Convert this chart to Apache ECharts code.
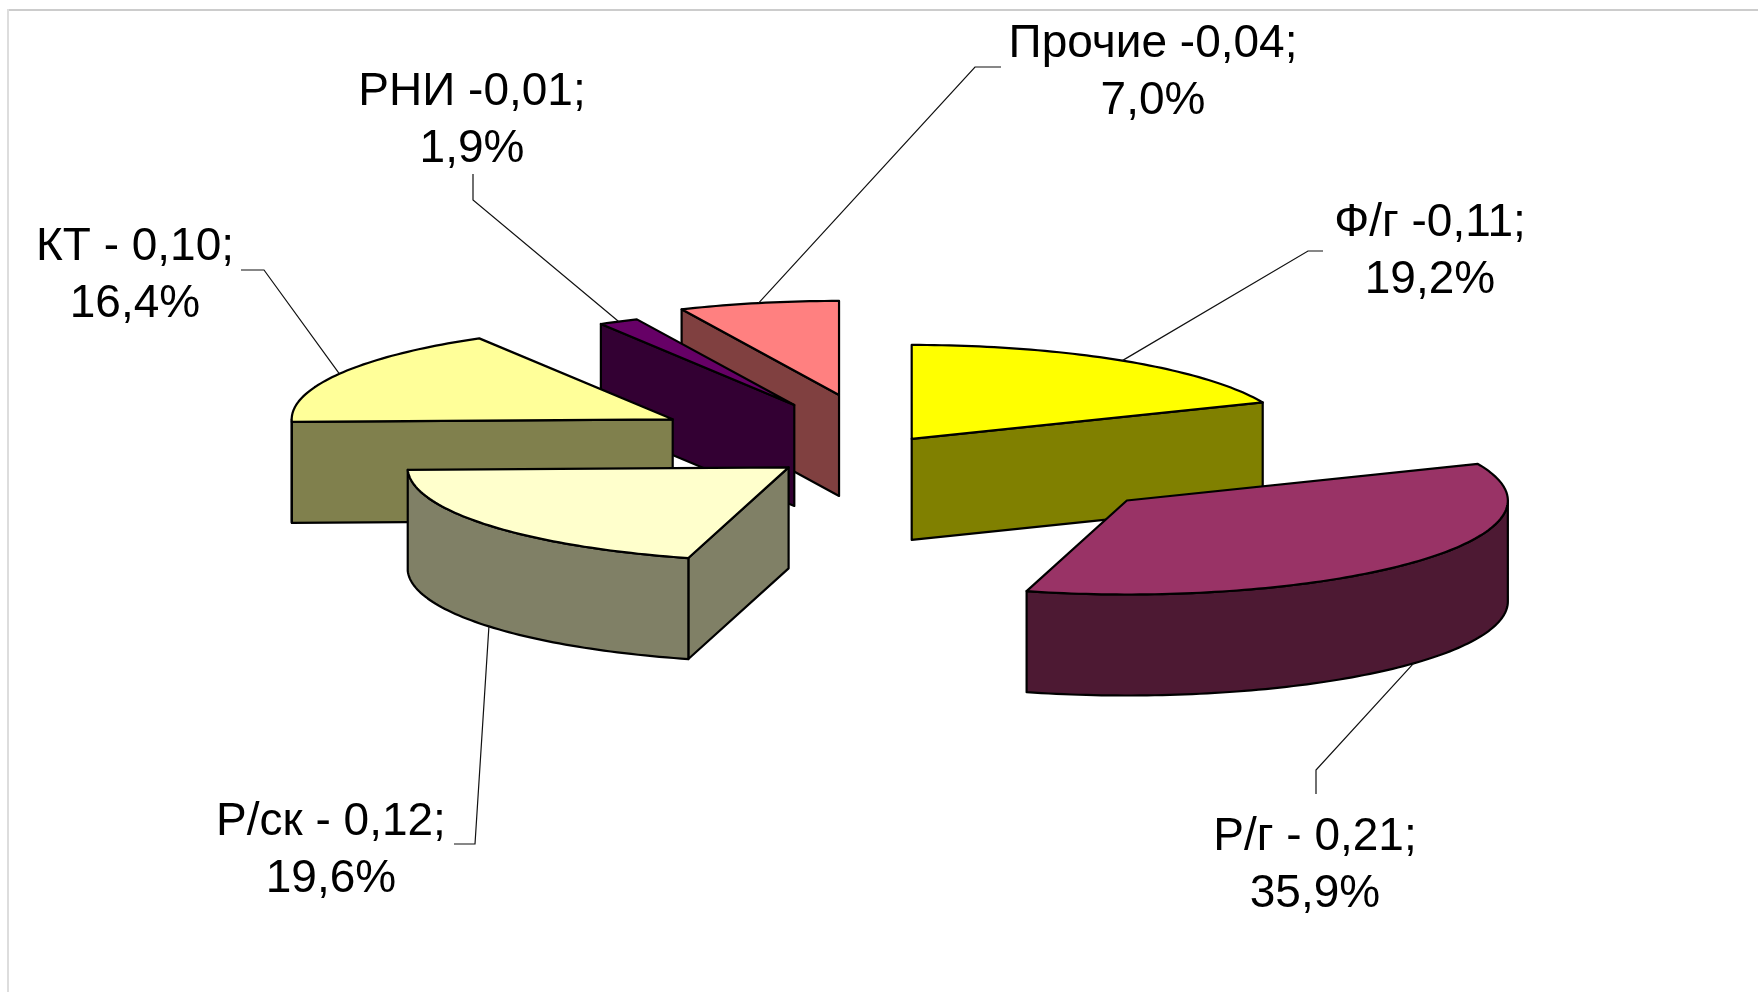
<!DOCTYPE html>
<html><head><meta charset="utf-8">
<style>html,body{margin:0;padding:0;background:#fff}#c{width:1758px;height:992px}</style>
<script src="https://cdn.jsdelivr.net/npm/echarts@6/dist/echarts.min.js"></script>
</head><body><div id="c"></div>
<script>
// Data, clockwise from 12 o'clock
const categories = ['Ф/г', 'Р/г', 'Р/ск', 'КТ', 'РНИ', 'Прочие'];
const values = [0.11, 0.21, 0.12, 0.10, 0.01, 0.04];
const percents = [19.2, 35.9, 19.6, 16.4, 1.9, 7.0];
const separators = [' -', ' - ', ' - ', ' - ', ' -', ' -'];
// Explosion of each slice, as a fraction of the radius
const explosions = [0.122, 0.84, 0.325, 0.64, 0.522, 0.583];
// Styles
const topColors = ['#ffff00', '#993366', '#ffffcc', '#ffff99', '#660066', '#ff8080'];
const wallColors = ['#808000', '#4d1933', '#808066', '#80804d', '#330033', '#804040'];
// Paint order, back to front
const drawOrder = [0, 1, 5, 4, 3, 2];
// Pie projection
const pie = { cx: 886, cy: 448.5, rx: 381, ry: 94, depth: 101 };
// Label centres and leader elbows
const labelCenters = [[1430, 252], [1315, 866], [331, 851], [135, 276], [472, 121], [1153, 73]];
const leaderElbows = [[[1308, 251], [1323, 251]], [[1316, 770], [1316, 794]], [[475, 844], [454, 844]],
                      [[264, 270], [241, 270]], [[473, 200], [473, 174]], [[975, 67], [1001, 67]]];

const total = values.reduce((a, b) => a + b, 0);
const toRad = v => v / total * Math.PI * 2;
const starts = [];
values.reduce((acc, v, i) => { starts[i] = acc; return acc + v; }, 0);

function renderItem(params, api) {
  const i = api.value(0);
  const a0 = toRad(starts[i]), a1 = toRad(starts[i] + values[i]), mid = (a0 + a1) / 2;
  const ax = pie.cx + explosions[i] * pie.rx * Math.sin(mid);
  const ay = pie.cy - explosions[i] * pie.ry * Math.cos(mid);
  const rim = a => [ax + pie.rx * Math.sin(a), ay - pie.ry * Math.cos(a)];
  const down = p => [p[0], p[1] + pie.depth];
  const arc = (from, to) => {
    const n = Math.max(2, Math.ceil((to - from) / 0.02)), pts = [];
    for (let k = 0; k <= n; k++) pts.push(rim(from + (to - from) * k / n));
    return pts;
  };
  const line = { stroke: '#000', lineWidth: 2.2, lineJoin: 'round' };
  const children = [];
  const wall = pts => children.push({
    type: 'polygon', shape: { points: pts.concat(pts.slice().reverse().map(down)) },
    style: Object.assign({ fill: wallColors[i] }, line)
  });
  // Cut faces that look towards the viewer
  if (Math.sin(a0) < -1e-6) wall([[ax, ay], rim(a0)]);
  if (Math.sin(a1) > 1e-6) wall([[ax, ay], rim(a1)]);
  // Outer wall on the near half of the pie
  const from = Math.max(a0, Math.PI / 2), to = Math.min(a1, Math.PI * 1.5);
  if (to > from) wall(arc(from, to));
  // Top face
  children.push({
    type: 'polygon', shape: { points: [[ax, ay]].concat(arc(a0, a1)) },
    style: Object.assign({ fill: topColors[i] }, line)
  });
  // Leader and label
  let anchor = rim(mid);
  if (Math.cos(mid) < 0) anchor = down(anchor);
  children.push({
    type: 'polyline', shape: { points: [anchor].concat(leaderElbows[i]) }, z2: 5,
    style: { stroke: '#111', lineWidth: 1.2, fill: 'none' }
  });
  const label = categories[i] + separators[i] + values[i].toFixed(2).replace('.', ',') + ';\n'
    + percents[i].toFixed(1).replace('.', ',') + '%';
  children.push({
    type: 'text', z2: 10,
    style: {
      text: label, x: labelCenters[i][0], y: labelCenters[i][1], align: 'center', verticalAlign: 'middle',
      font: '46px "Liberation Sans", Arial, sans-serif', lineHeight: 57, fill: '#000'
    }
  });
  return { type: 'group', children };
}

const chart = echarts.init(document.getElementById('c'), null, { renderer: 'canvas' });
chart.setOption({
  animation: false,
  backgroundColor: '#fff',
  graphic: [
    { type: 'line', shape: { x1: 8, y1: 10, x2: 1758, y2: 10 }, style: { stroke: '#cccccc', lineWidth: 2 } },
    { type: 'line', shape: { x1: 8, y1: 9, x2: 8, y2: 992 }, style: { stroke: '#dddddd', lineWidth: 2 } }
  ],
  series: [{
    type: 'custom', coordinateSystem: 'none', renderItem,
    data: drawOrder.map(i => [i])
  }]
});
</script></body></html>
